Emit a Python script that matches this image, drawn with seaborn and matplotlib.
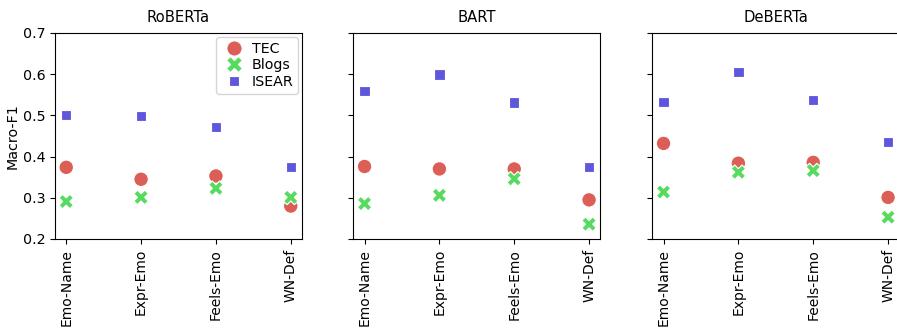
import matplotlib
matplotlib.use("Agg")
import matplotlib.pyplot as plt
import seaborn as sns
import pandas as pd

models = ["RoBERTa", "BART", "DeBERTa"]
templates = ["Emo-Name", "Expr-Emo", "Feels-Emo", "WN-Def"]
datasets = ["TEC", "Blogs", "ISEAR"]

# Macro-F1 per model, per dataset, in template order
roberta_tec = [0.374, 0.345, 0.353, 0.280]
roberta_blogs = [0.291, 0.301, 0.323, 0.301]
roberta_isear = [0.501, 0.499, 0.471, 0.375]

bart_tec = [0.376, 0.370, 0.370, 0.295]
bart_blogs = [0.286, 0.306, 0.346, 0.236]
bart_isear = [0.559, 0.599, 0.531, 0.374]

deberta_tec = [0.432, 0.384, 0.386, 0.301]
deberta_blogs = [0.314, 0.362, 0.366, 0.253]
deberta_isear = [0.533, 0.605, 0.538, 0.435]

values = {
    "RoBERTa": [roberta_tec, roberta_blogs, roberta_isear],
    "BART": [bart_tec, bart_blogs, bart_isear],
    "DeBERTa": [deberta_tec, deberta_blogs, deberta_isear],
}

rows = []
for m in models:
    for d, vals in zip(datasets, values[m]):
        for t, v in zip(templates, vals):
            rows.append({"model": m, "template": t, "dataset": d, "f1": v})
df = pd.DataFrame(rows)

W, H = 897, 328
fig = plt.figure(figsize=(W / 100, H / 100), dpi=100)
lefts = [55, 353.3, 652.3]
aw, top, bottom = 247, 33, 239
palette = sns.color_palette("hls", 3)
fs = 10.3

axes = []
for i, m in enumerate(models):
    ax = fig.add_axes([lefts[i] / W, 1 - bottom / H, aw / W, (bottom - top) / H])
    axes.append(ax)
    sub = df[df.model == m]
    sns.scatterplot(data=sub, x="template", y="f1", hue="dataset", style="dataset",
                    hue_order=datasets, style_order=datasets, palette=palette,
                    s=110, ax=ax, legend=(i == 0))
    ax.set_ylim(0.2, 0.7)
    ax.set_yticks([0.2, 0.3, 0.4, 0.5, 0.6, 0.7])
    ax.set_title(m, fontsize=10.6, pad=8)
    ax.set_xlabel("")
    ax.tick_params(axis="x", labelrotation=90, labelsize=10)
    ax.tick_params(axis="y", labelsize=fs)
    if i == 0:
        ax.set_ylabel("Macro-F1", fontsize=fs, labelpad=2)
        leg = ax.legend(loc="upper right", fontsize=fs, title=None, handletextpad=0.2,
                        borderpad=0.3, labelspacing=0.2, borderaxespad=0.3)
        for h in leg.legend_handles:
            h.set_markersize(11)
    else:
        ax.set_ylabel("")
        ax.set_yticklabels([])

fig.savefig("out.png", dpi=100)
